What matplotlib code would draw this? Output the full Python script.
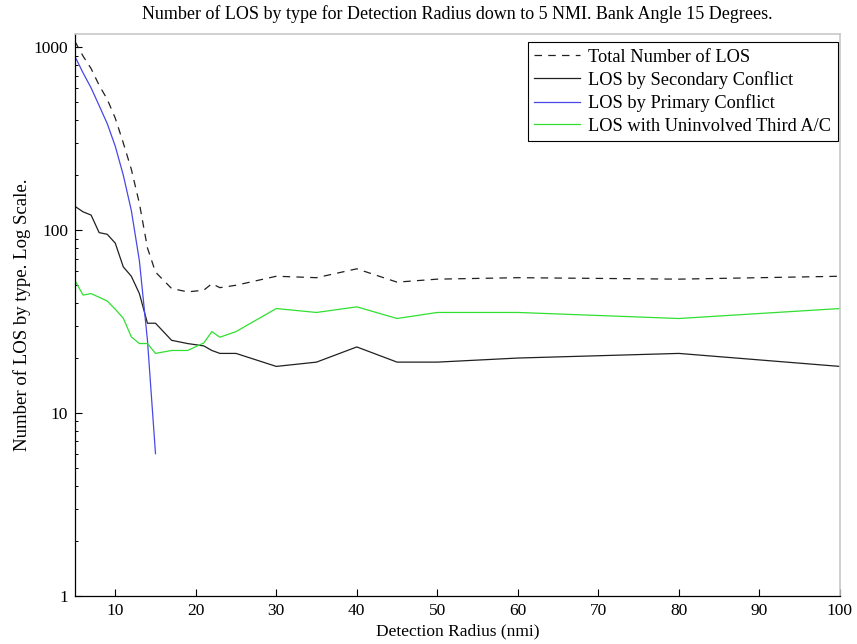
import matplotlib
matplotlib.use("Agg")
import matplotlib.pyplot as plt
from matplotlib.ticker import FixedLocator, FixedFormatter, LogLocator, NullFormatter

plt.rcParams['font.family'] = ['Liberation Serif', 'DejaVu Serif']

radius = [5, 6, 7, 8, 9, 10, 11, 12, 13, 14, 15, 17, 19, 21, 22, 23, 25,
          30, 35, 40, 45, 50, 60, 80, 100]
total = [1075, 895, 765, 620, 520, 410, 300, 215, 140, 80, 59, 48, 46, 47,
         51, 48.5, 50, 56, 55, 61.5, 52, 54, 55, 54, 56]
secondary = [135, 126, 121, 97, 95, 85, 63, 56, 45, 31, 31, 25, 24, 23.3,
             22, 21.2, 21.2, 18, 19, 23, 19, 19, 20, 21.2, 18]
primary_x = [5, 6, 7, 8, 9, 10, 11, 12, 13, 14, 15]
primary = [890, 725, 600, 480, 383, 288, 200, 128, 68, 25, 6]
third = [53, 44.2, 45, 43, 41, 37, 33, 26.1, 24, 24, 21.2, 22, 22, 24.2,
         27.9, 26, 27.9, 37.3, 35.5, 38.1, 32.9, 35.5, 35.5, 32.9, 37.3]

xticks = [10, 20, 30, 40, 50, 60, 70, 80, 90, 100]
yticks = [1, 10, 100, 1000]
ytick_labels = ['1', '10', '100', '1000']

fig = plt.figure(figsize=(8.57, 6.44), dpi=100)
ax = fig.add_axes([0.0875, 0.0745, 0.8925, 0.8725])

ax.plot(radius, total, color='#202020', lw=0.9, ls=(0, (6, 5)), label='Total Number of LOS')
ax.plot(radius, secondary, color='#202020', lw=0.9, label='LOS by Secondary Conflict')
ax.plot(primary_x, primary, color='#4848e8', lw=0.9, label='LOS by Primary Conflict')
ax.plot(radius, third, color='#30e030', lw=0.9, label='LOS with Uninvolved Third A/C')

ax.set_yscale('log')
ax.set_xlim(5, 100)
ax.set_ylim(1, 1180)

ax.xaxis.set_major_locator(FixedLocator(xticks))
ax.yaxis.set_major_locator(FixedLocator(yticks))
ax.yaxis.set_major_formatter(FixedFormatter(ytick_labels))
ax.yaxis.set_minor_locator(LogLocator(base=10, subs=range(2, 10)))
ax.yaxis.set_minor_formatter(NullFormatter())

ax.tick_params(axis='both', which='major', direction='in', length=5, width=0.8,
               labelsize=12.5, top=False, right=False, pad=5)
ax.tick_params(axis='y', which='minor', direction='in', length=2.5, width=0.7, right=False)

for s in ['left', 'bottom']:
    ax.spines[s].set_color('black')
    ax.spines[s].set_linewidth(0.9)
for s in ['top', 'right']:
    ax.spines[s].set_color('#c8c8c8')
    ax.spines[s].set_linewidth(1.2)

ax.set_title('Number of LOS by type for Detection Radius down to 5 NMI. Bank Angle 15 Degrees.',
             fontsize=13, pad=11)
ax.set_xlabel('Detection Radius (nmi)', fontsize=12.5, labelpad=3)
ax.set_ylabel('Number of LOS by type. Log Scale.', fontsize=13.5, labelpad=2)

leg = ax.legend(loc='upper right', bbox_to_anchor=(0.9974, 0.9858), fontsize=13.2,
                frameon=True, fancybox=False, borderaxespad=0.0, handlelength=2.5,
                handletextpad=0.45, borderpad=0.35, labelspacing=0.3)
leg.get_frame().set_edgecolor('black')
leg.get_frame().set_linewidth(0.8)
leg.get_frame().set_alpha(1)

fig.savefig('out.png', dpi=100)
